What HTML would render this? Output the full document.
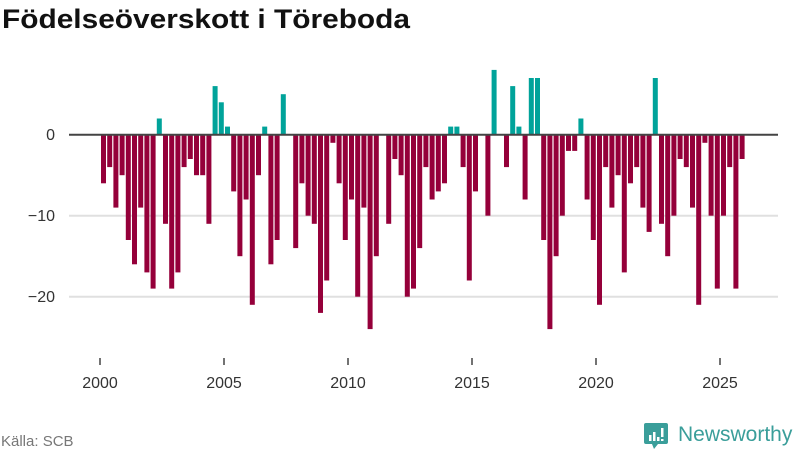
<!DOCTYPE html>
<html><head><meta charset="utf-8"><style>
body{margin:0;background:#fff;width:800px;height:450px;overflow:hidden;font-family:"Liberation Sans",sans-serif}
</style></head><body>
<svg width="800" height="450" id="svg">
<text x="2" y="28" font-size="27" font-weight="bold" fill="#111" textLength="408" lengthAdjust="spacingAndGlyphs">Födelseöverskott i Töreboda</text>
<g id="grid"></g><g id="bars"></g><g id="axes"></g>
<text x="1" y="446" font-size="15" fill="#777">Källa: SCB</text>
<g>
<path d="M646 423 h20 a2 2 0 0 1 2 2 v17 a2 2 0 0 1 -2 2 h-8 l-4 5 l-2 -5 h-6 a2 2 0 0 1 -2 -2 v-17 a2 2 0 0 1 2 -2z" fill="#3a9e9a"/>
<rect x="649" y="435" width="2.5" height="6" fill="#fff"/><rect x="653" y="432" width="2.5" height="9" fill="#fff"/><rect x="657" y="437" width="2.5" height="4" fill="#fff"/><rect x="661" y="428" width="2.5" height="9" fill="#fff"/><rect x="661" y="439" width="2.5" height="2" fill="#fff"/>
<text x="678" y="441" font-size="21" fill="#3a9e9a">Newsworthy</text>
</g>
</svg>
<script>
const startYear = 2000;
const values = [-6,-4,-9,-5,-13,-16,-9,-17,-19,2,-11,-19,-17,-4,-3,-5,-5,-11,6,4,1,-7,-15,-8,-21,-5,1,-16,-13,5,0,-14,-6,-10,-11,-22,-18,-1,-6,-13,-8,-20,-9,-24,-15,0,-11,-3,-5,-20,-19,-14,-4,-8,-7,-6,1,1,-4,-18,-7,0,-10,8,0,-4,6,1,-8,7,7,-13,-24,-15,-10,-2,-2,2,-8,-13,-21,-4,-9,-5,-17,-6,-4,-9,-12,7,-11,-15,-10,-3,-4,-9,-21,-1,-10,-19,-10,-4,-19,-3];
const yTicks = [0,-10,-20];
const xTicks = [2000,2005,2010,2015,2020,2025];
const NS='http://www.w3.org/2000/svg';
const X = t => 100 + (t - startYear) * 24.8;
const Y = v => 134.7 - v * 8.1;
const grid=document.getElementById('grid'), bars=document.getElementById('bars'), axes=document.getElementById('axes');
function mk(tag,attrs,parent){const e=document.createElementNS(NS,tag);for(const k in attrs)e.setAttribute(k,attrs[k]);parent.appendChild(e);return e;}
yTicks.forEach(v=>{
  if(v!==0){
    const l=mk('line',{x1:69,x2:778,y1:Y(v),y2:Y(v),stroke:'#e0e0e0','stroke-width':2},grid);
    
    
  }
  const t=mk('text',{x:55,y:Y(v)+5.5,'text-anchor':'end','font-size':16,fill:'#333'},axes);
  t.textContent=v===0?'0':'\u2212'+Math.abs(v);
  
  
});
values.forEach((v,i)=>{
  const t=startYear+i*0.25;
  const x=X(t)+1, y0=Y(0), y1=Y(v);
  const r=mk('rect',{x:x,y:Math.min(y0,y1),width:5,height:Math.abs(y1-y0),fill:v>=0?'#00a39a':'#95003a'},bars);
  
  
});
const z=mk('line',{x1:69,x2:778,y1:Y(0),y2:Y(0),stroke:'#444','stroke-width':2},axes);


xTicks.forEach(yr=>{
  const tk=mk('line',{x1:X(yr),x2:X(yr),y1:358,y2:365,stroke:'#444','stroke-width':1.5},axes);
  
  
  const t=mk('text',{x:X(yr),y:388,'text-anchor':'middle','font-size':16,fill:'#333'},axes);
  t.textContent=yr;
  
  
});
</script>
</body></html>
